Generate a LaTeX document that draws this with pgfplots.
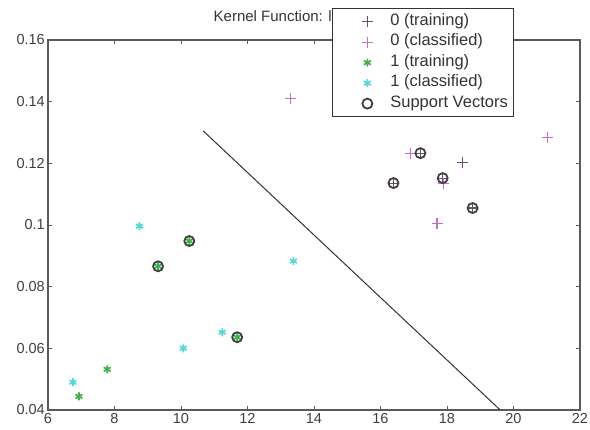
\documentclass[border=0pt]{standalone}
\usepackage{fontspec}
\setmainfont{Liberation Sans}
\usepackage{pgfplots}
\pgfplotsset{compat=1.18}

\definecolor{trainA}{HTML}{6E4A72}
\definecolor{classA}{HTML}{C66CC8}
\definecolor{trainB}{HTML}{3FB24A}
\definecolor{classB}{HTML}{55D8D8}
\definecolor{axgray}{HTML}{5A5A5A}

\pgfplotsset{
    legimg/.style={legend image code/.code={%
        \path[draw=none, fill=none] (0pt,-1pt) rectangle (52pt,1pt);
        \draw[##1] plot coordinates {(31pt,0pt)};}},
}

\begin{document}
\begin{tikzpicture}[x=1pt,y=1pt]
\path[use as bounding box] (-48,-20) rectangle (542,410);
\begin{axis}[
    at={(0,0)}, anchor=south west,
    width=532pt, height=370pt, scale only axis,
    xmin=6, xmax=22, ymin=0.04, ymax=0.16,
    xtick={6,8,...,22},
    ytick={0.04,0.06,0.08,0.1,0.12,0.14,0.16},
    yticklabels={0.04,0.06,0.08,0.1,0.12,0.14,0.16},
    scaled y ticks=false,
    tick align=inside, tick pos=both,
    major tick length=4pt,
    every tick/.style={axgray, line width=0.9pt},
    axis line style={axgray, line width=1.4pt},
    ticklabel style={font=\fontsize{14.5}{16}\selectfont, text=black!75},
    yticklabel style={inner xsep=3pt},
    /pgf/number format/assume math mode=true,
    title={Kernel Function: linear\_kernel},
    title style={font=\fontsize{15}{17}\selectfont, text=black!80,
        at={(0.5,1)}, anchor=base, yshift=12pt},
    legend cell align=left,
    legend style={at={(0.5338,1.0865)}, anchor=north west,
        draw=black!80, line width=0.8pt, fill=white,
        font=\fontsize{16.5}{18}\selectfont, text=black!80,
        inner xsep=4pt, inner ysep=3.5pt, row sep=1pt,
        nodes={text height=10.5pt, text depth=3pt, inner ysep=3pt}},
]
% class 0, training
\addplot[only marks, mark=+, mark size=5.5pt, trainA, line width=1.1pt, legimg]
    coordinates {(17.2,0.1233) (16.39,0.1136) (17.87,0.1152) (18.77,0.1055) (18.47,0.1204)};
\addlegendentry{0 (training)}
% class 0, classified
\addplot[only marks, mark=+, mark size=5.5pt, classA, line width=1.1pt, legimg]
    coordinates {(13.3,0.141) (16.9,0.1233) (17.9,0.1136) (17.7,0.1006) (21.03,0.1285)};
\addlegendentry{0 (classified)}
% class 1, training
\addplot[only marks, mark=asterisk, mark size=4pt, trainB, line width=1.7pt, legimg]
    coordinates {(10.25,0.0948) (9.31,0.0866) (11.69,0.0636) (7.78,0.0532) (6.93,0.0444)};
\addlegendentry{1 (training)}
% class 1, classified
\addplot[only marks, mark=asterisk, mark size=4pt, classB, line width=1.7pt, legimg]
    coordinates {(8.75,0.0996) (13.38,0.0883) (11.24,0.0652) (10.07,0.060) (6.75,0.049)};
\addlegendentry{1 (classified)}
% support vectors
\addplot[only marks, mark=o, mark size=5pt, black!75, line width=1.8pt, legimg]
    coordinates {(17.2,0.1233) (16.39,0.1136) (17.87,0.1152) (18.77,0.1055)
                 (10.25,0.0948) (9.31,0.0866) (11.69,0.0636)};
\addlegendentry{Support Vectors}
% separating line
\addplot[black!80, line width=1pt, forget plot]
    coordinates {(10.67,0.1305) (19.6,0.04)};
\end{axis}
\end{tikzpicture}
\end{document}
